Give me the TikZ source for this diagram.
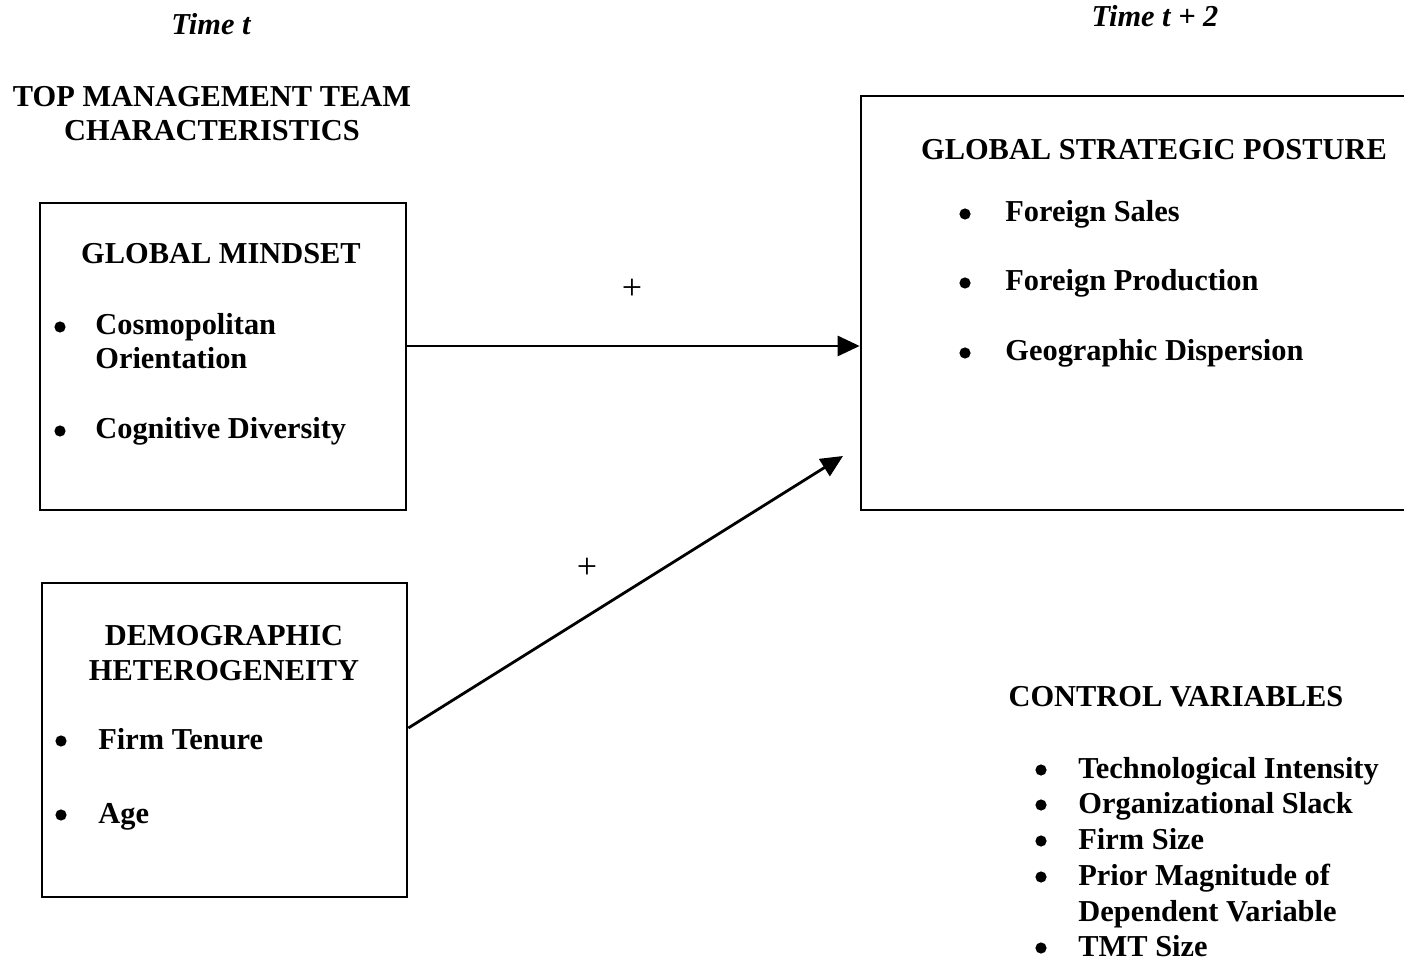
\documentclass[tikz,border=0pt]{standalone}
\usepackage{fontspec}
\setmainfont{Liberation Serif}
\usetikzlibrary{arrows.meta,calc}

\begin{document}
\begin{tikzpicture}[x=0.5pt,y=-0.5pt,
  txt/.style={font=\fontsize{15.2}{17.5}\selectfont\bfseries, inner sep=0pt, anchor=base west},
  ctr/.style={txt, anchor=base},
  timelbl/.style={font=\fontsize{15.2}{17.5}\selectfont\bfseries\itshape, inner sep=0pt, anchor=base},
  sign/.style={font=\fontsize{18}{20}\selectfont, inner sep=0pt},
  box/.style={draw, line width=1.35pt, inner sep=0pt},
  dot/.style={circle, fill, inner sep=0pt, minimum size=5.6pt},
  arr/.style={line width=1.4pt, -{Triangle[length=11pt,width=10pt]}}]

\useasboundingbox (0,0) rectangle (1404,962);
\clip (0,0) rectangle (1404,962);

% time headings
\node[timelbl] (tt)  at (211,35) {Time t};
\node[timelbl] (tt2) at (1155,27) {Time t + 2};

% left column heading
\node[ctr] (tmt1) at (212,107) {TOP MANAGEMENT TEAM};
\node[ctr] (tmt2) at (212,141) {CHARACTERISTICS};

% global mindset box
\node[box, minimum width=183pt, minimum height=153.5pt] (gm) at (223,356.5) {};
\node[ctr] (gmt) at (221,264) {GLOBAL MINDSET};
\node[dot] (gmb1) at (60,327) {};
\node[txt] (gm1a) at (95,335) {Cosmopolitan};
\node[txt] (gm1b) at (95,369) {Orientation};
\node[dot] (gmb2) at (60,431) {};
\node[txt] (gm2) at (95,439) {Cognitive Diversity};

% demographic heterogeneity box
\node[box, minimum width=182.5pt, minimum height=157pt] (dh) at (224.5,740) {};
\node[ctr] (dht1) at (224,646) {DEMOGRAPHIC};
\node[ctr] (dht2) at (224,681) {HETEROGENEITY};
\node[dot] (dhb1) at (61,741) {};
\node[txt] (dh1) at (98,749) {Firm Tenure};
\node[dot] (dhb2) at (61,815) {};
\node[txt] (dh2) at (98,823) {Age};

% global strategic posture box (runs past the right edge)
\node[box, minimum width=279.5pt, minimum height=207pt] (gsp) at (1140.5,303) {};
\node[ctr] (gspt) at (1154,160) {GLOBAL STRATEGIC POSTURE};
\node[dot] (gspb1) at (965,214) {};
\node[txt] (gsp1) at (1005,222) {Foreign Sales};
\node[dot] (gspb2) at (965,283) {};
\node[txt] (gsp2) at (1005,291) {Foreign Production};
\node[dot] (gspb3) at (965,353) {};
\node[txt] (gsp3) at (1005,361) {Geographic Dispersion};

% control variables
\node[ctr] (cvt) at (1176,706) {CONTROL VARIABLES};
\node[dot] (cvb1) at (1041,770) {};
\node[txt] (cv1) at (1078,778) {Technological Intensity};
\node[dot] (cvb2) at (1041,805) {};
\node[txt] (cv2) at (1078,813) {Organizational Slack};
\node[dot] (cvb3) at (1041,841) {};
\node[txt] (cv3) at (1078,849) {Firm Size};
\node[dot] (cvb4) at (1041,877) {};
\node[txt] (cv4a) at (1078,885) {Prior Magnitude of};
\node[txt] (cv4b) at (1078,921) {Dependent Variable};
\node[dot] (cvb5) at (1041,948) {};
\node[txt] (cv5) at (1078,956) {TMT Size};

% paths
\coordinate (h1) at ($(gm.east)+(0,-10.5)$);
\draw[arr] (h1) -- (h1 -| gsp.west);
\coordinate (d1) at ($(dh.east)+(0,-12)$);
\coordinate (d2) at (843,456);
\draw[arr] (d1) -- (d2);

\node[sign] (p1) at (632,289) {+};
\node[sign] (p2) at (587,568) {+};
\end{tikzpicture}
\end{document}
